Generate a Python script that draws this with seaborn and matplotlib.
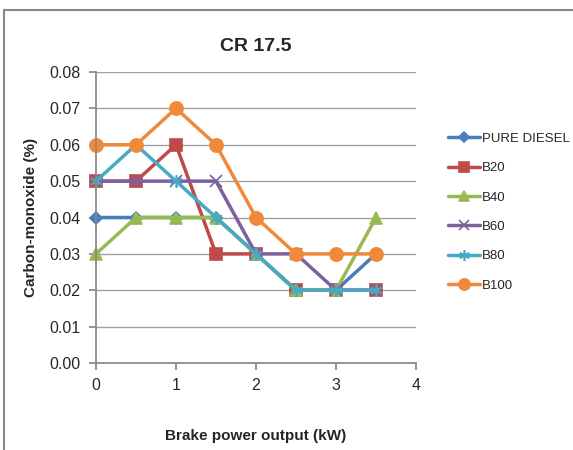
import matplotlib
matplotlib.use("Agg")
import matplotlib.pyplot as plt
from matplotlib.patches import Rectangle
import seaborn as sns
import pandas as pd

power = [0, 0.5, 1, 1.5, 2, 2.5, 3, 3.5]
pure_diesel = [0.04, 0.04, 0.04, 0.04, 0.03, 0.02, 0.02, 0.03]
b20 = [0.05, 0.05, 0.06, 0.03, 0.03, 0.02, 0.02, 0.02]
b40 = [0.03, 0.04, 0.04, 0.04, 0.03, 0.02, 0.02, 0.04]
b60 = [0.05, 0.05, 0.05, 0.05, 0.03, 0.03, 0.02, 0.02]
b80 = [0.05, 0.06, 0.05, 0.04, 0.03, 0.02, 0.02, 0.02]
b100 = [0.06, 0.06, 0.07, 0.06, 0.04, 0.03, 0.03, 0.03]
series_names = ["PURE DIESEL", "B20", "B40", "B60", "B80", "B100"]
series_values = [pure_diesel, b20, b40, b60, b80, b100]
y_ticks = [0, 0.01, 0.02, 0.03, 0.04, 0.05, 0.06, 0.07, 0.08]
x_ticks = [0, 1, 2, 3, 4]

colors = ["#4A7EBB", "#BE4B48", "#98B954", "#7D60A0", "#46AAC5", "#F08A3A"]
markers = ["D", "s", "^", "x", (6, 2, 0), "o"]
msizes = [6.5, 8.5, 8.5, 9, 9, 9.5]

sns.set_theme(style="white")
plt.rcParams['font.family'] = ['Liberation Sans', 'DejaVu Sans']

fig = plt.figure(figsize=(5.73, 4.5), dpi=100)
ax = fig.add_axes([96/573, 1-363/450, 320/573, 291/450])

for name, vals, c, m, ms in zip(series_names, series_values, colors, markers, msizes):
    df = pd.DataFrame({"x": power, "y": vals})
    sns.lineplot(data=df, x="x", y="y", ax=ax, color=c, marker=m, markersize=ms,
                 linewidth=2.5, label=name, markeredgecolor=c, markeredgewidth=1.2)

ax.set_xlim(0, 4)
ax.set_ylim(0, 0.08)
ax.set_xticks(x_ticks)
ax.set_yticks(y_ticks)
ax.set_xticklabels([str(t) for t in x_ticks])
ax.set_yticklabels([f"{t:.2f}" for t in y_ticks])
ax.yaxis.grid(True, color="#A0A0A0", linewidth=1)
ax.xaxis.grid(False)
for s in ["top", "right"]:
    ax.spines[s].set_visible(False)
for s in ["left", "bottom"]:
    ax.spines[s].set_color("#888888")
ax.tick_params(axis="both", which="both", length=5, color="#888888", direction="out",
               labelsize=11.5, pad=6, bottom=True, left=True)
ax.set_xlabel("Brake power output (kW)", fontsize=11, fontweight="bold", labelpad=26)
ax.set_ylabel("Carbon-monoxide (%)", fontsize=11, fontweight="bold", labelpad=8)
ax.set_title("CR 17.5", fontsize=14, fontweight="bold", pad=15)
for line in ax.lines:
    line.set_clip_on(False)

leg = ax.legend(loc="upper left", bbox_to_anchor=(1.085, 0.81), frameon=False,
                fontsize=9.5, handlelength=2.4, labelspacing=1.3, handletextpad=0.15,
                borderaxespad=0, markerscale=0.85)

fig.patches.append(Rectangle((4/573, -0.1), 1.2, 1 - 10/450 + 0.1, transform=fig.transFigure,
                             fill=False, edgecolor="#888888", linewidth=1.5))

fig.savefig("out.png", dpi=100)
